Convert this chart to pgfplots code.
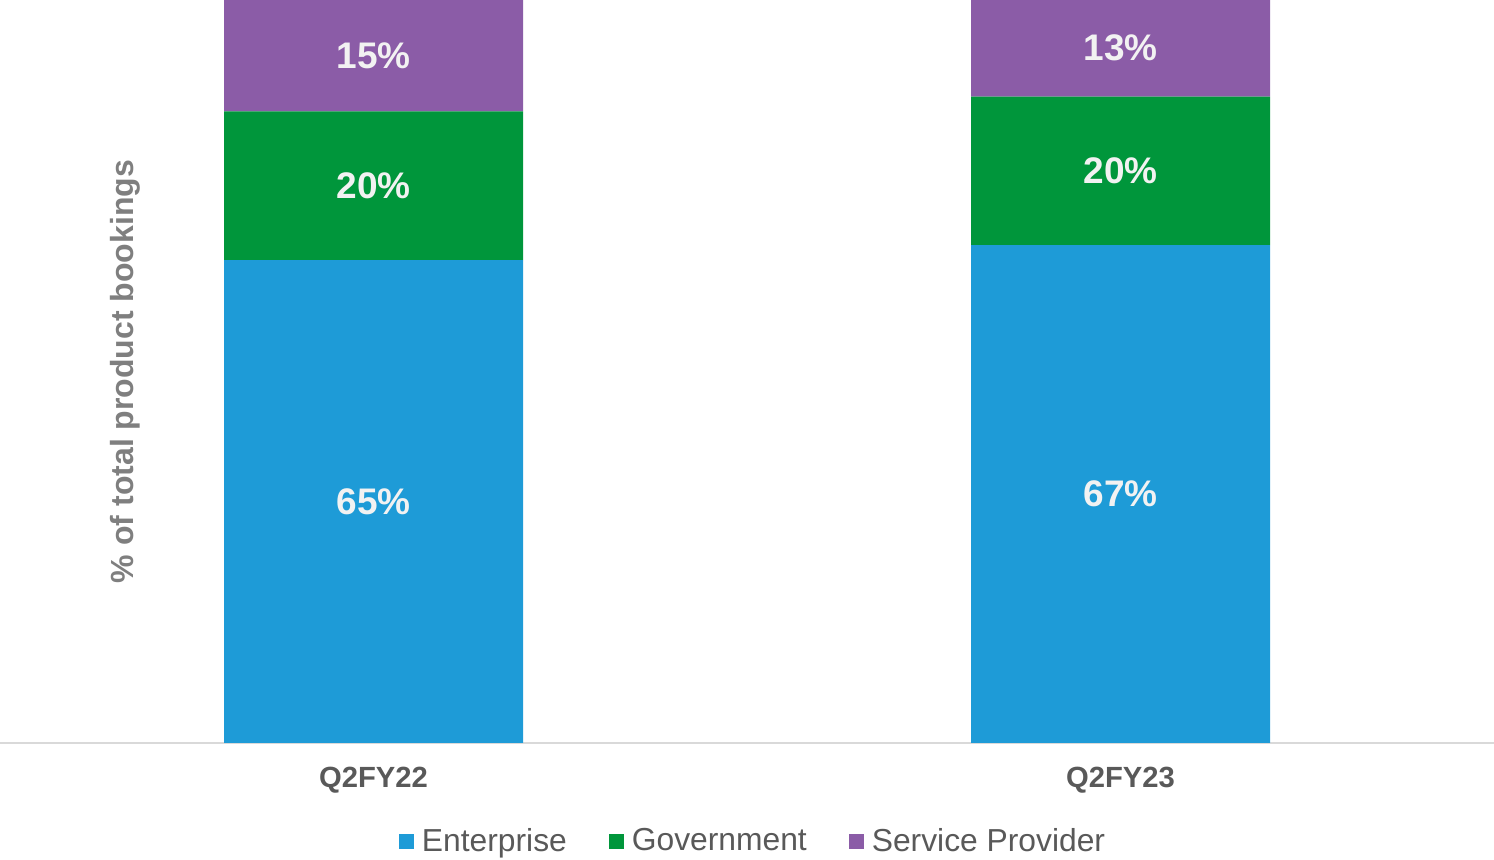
\documentclass[border=0pt]{standalone}
\usepackage{pgfplots}
\pgfplotsset{compat=1.18}
\usepackage{fontspec}
\setmainfont{Liberation Sans}
\definecolor{ent}{HTML}{1E9BD7}
\definecolor{gov}{HTML}{00963B}
\definecolor{spr}{HTML}{8B5CA7}
\definecolor{lbl}{HTML}{F2F2F2}
\definecolor{tck}{HTML}{595959}
\definecolor{ylab}{HTML}{7F7F7F}
\definecolor{axl}{HTML}{D9D9D9}
\tikzset{seg/.style={font=\bfseries\fontsize{18.5}{20}\selectfont, text=lbl}}

\begin{document}
\begin{tikzpicture}
\begin{axis}[
  name=ax,
  at={(0,0)}, anchor=south west,
  scale only axis,
  width=747pt, height=371.5pt,
  ybar stacked, bar width=149.5pt,
  xmin=-0.5, xmax=1.5,
  ymin=0, ymax=100,
  xtick={0,1},
  xticklabels={Q2FY22,Q2FY23},
  ytick=\empty,
  major tick length=0pt,
  axis x line*=bottom, axis y line*=left,
  x axis line style={draw=axl, line width=0.6pt},
  y axis line style={draw=none},
  x tick label style={font=\bfseries\fontsize{14.6}{16}\selectfont, text=tck, anchor=base, yshift=-22.5pt},
  legend style={at={(axis description cs:0.5047,-0.132)}, anchor=center,
    draw=none, fill=none, legend columns=3,
    font=\fontsize{15.9}{18}\selectfont, text=tck,
    /tikz/every even column/.append style={column sep=19pt}},
  legend image code/.code={\fill[#1] (0pt,-3.75pt) rectangle (7.5pt,3.75pt); \path (9.5pt,0pt);},
  clip=false,
]
\addplot[fill=ent, draw=none] coordinates {(0,65) (1,67)};
\addlegendentry{Enterprise}
\addplot[fill=gov, draw=none] coordinates {(0,20) (1,20)};
\addlegendentry{Government}
\addplot[fill=spr, draw=none] coordinates {(0,15) (1,13)};
\addlegendentry{Service Provider}
\coordinate (a1) at (axis cs:0,32.5);
\coordinate (a2) at (axis cs:0,75);
\coordinate (a3) at (axis cs:0,92.5);
\coordinate (b1) at (axis cs:1,33.5);
\coordinate (b2) at (axis cs:1,77);
\coordinate (b3) at (axis cs:1,93.5);
\coordinate (yl) at (axis description cs:0.0837,0.5);
\end{axis}
\node[seg] at (a1) {65\%};
\node[seg] at (a2) {20\%};
\node[seg] at (a3) {15\%};
\node[seg] at (b1) {67\%};
\node[seg] at (b2) {20\%};
\node[seg] at (b3) {13\%};
\node[rotate=90, font=\bfseries\fontsize{16}{18}\selectfont, text=ylab] at (yl) {\% of total product bookings};
\pgfresetboundingbox
\path (ax.south west) ++(0,-58.5pt) rectangle (ax.north east);
\end{tikzpicture}
\end{document}
